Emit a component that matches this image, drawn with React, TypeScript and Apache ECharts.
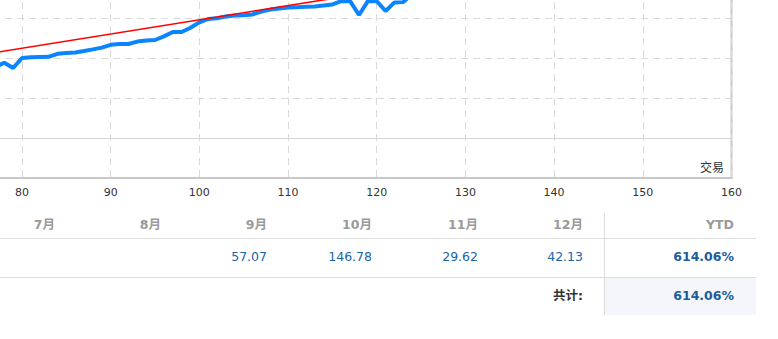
import React, { useEffect, useRef } from "react";
import * as echarts from "echarts";

// ---- data ----
const trades = [76, 77, 78, 79, 80, 81, 82, 83, 84, 85, 86, 87, 88, 89, 90, 91, 92, 93, 94, 95, 96, 97, 98, 99, 100, 101, 102, 103, 104, 105, 106, 107, 108, 109, 110, 111, 112, 113, 114, 115, 116, 117, 118, 119, 120, 121, 122, 123, 124, 125];
const growth = [175, 178, 188, 175, 200, 202, 202.5, 203, 210.5, 212.5, 214, 217.5, 221.5, 226, 233, 235, 235, 241, 243.5, 245, 254, 265, 265, 275.5, 289, 297.5, 299.5, 304, 306, 307, 309, 316, 321, 324, 326, 327, 328, 329, 331, 334, 342, 342, 307.5, 342, 342, 317.5, 339, 340, 360, 380];
const trendTrades = [70, 130];
const trendValues = [189, 402];
const xTicks = [70, 80, 90, 100, 110, 120, 130, 140, 150, 160];

const monthLabels = ["7月", "8月", "9月", "10月", "11月", "12月"];
const monthValues = ["", "", "57.07", "146.78", "29.62", "42.13"];
const ytdLabel = "YTD";
const ytdValue = "614.06%";
const totalLabel = "共计:";
const totalValue = "614.06%";

const FONT = "Tahoma, 'DejaVu Sans', 'Noto Sans CJK SC', sans-serif";

export default function App() {
  const ref = useRef<HTMLDivElement>(null);

  useEffect(() => {
    if (!ref.current) return;
    const chart = echarts.init(ref.current, undefined, { renderer: "svg" });
    chart.setOption({
      animation: false,
      grid: {
        left: 33.3,
        right: 46.5,
        top: 58,
        bottom: 32,
        show: true,
        borderColor: "#c8c8c8",
        borderWidth: 2,
        backgroundColor: "transparent",
      },
      xAxis: {
        type: "value",
        min: xTicks[0],
        max: xTicks[xTicks.length - 1],
        interval: 10,
        axisLine: { show: true, onZero: false, lineStyle: { color: "#c8c8c8", width: 2 } },
        axisTick: { show: false },
        axisLabel: {
          margin: 9,
          color: "#333",
          fontSize: 11,
          fontFamily: FONT,
          formatter: (v: number) => (v < 80 ? "" : String(v)),
        },
        splitLine: { show: true, lineStyle: { color: "#d9d9d9", width: 1, type: [7, 5] } },
      },
      yAxis: {
        type: "value",
        min: -100,
        max: 700,
        interval: 100,
        axisLine: { show: false },
        axisTick: { show: false },
        axisLabel: { show: false },
        splitLine: { show: true, lineStyle: { color: "#d9d9d9", width: 1, type: [7, 5] } },
      },
      graphic: [
        {
          type: "text",
          x: 824,
          y: 366.5,
          style: {
            text: "交易",
            fill: "#333",
            font: "12px 'Noto Sans CJK SC', sans-serif",
            textAlign: "right",
            textVerticalAlign: "middle",
          },
        },
      ],
      series: [
        {
          type: "line",
          data: trades.map((t, i) => [t, growth[i]]),
          showSymbol: false,
          symbol: "none",
          lineStyle: { color: "#0a84ff", width: 4 },
          itemStyle: { color: "#0a84ff" },
          z: 2,
          markLine: {
            silent: true,
            symbol: "none",
            label: { show: false },
            lineStyle: { color: "#d6d6d6", width: 1, type: "solid" },
            data: [{ yAxis: 0 }],
          },
        },
        {
          type: "line",
          data: trendTrades.map((t, i) => [t, trendValues[i]]),
          showSymbol: false,
          symbol: "none",
          lineStyle: { color: "#ff0000", width: 1.6 },
          itemStyle: { color: "#ff0000" },
          z: 3,
        },
      ],
    });
    return () => chart.dispose();
  }, []);

  const colRight = [55, 161, 267, 372, 478, 583];
  const ytdRight = 734;

  const cell = (text: string, right: number, cy: number, style: React.CSSProperties, key: string) => (
    <div
      key={key}
      style={{
        position: "absolute",
        left: right - 120,
        width: 120,
        top: cy - 10,
        height: 20,
        lineHeight: "20px",
        textAlign: "right",
        fontFamily: FONT,
        fontSize: 12.5,
        whiteSpace: "nowrap",
        ...style,
      }}
    >
      {text}
    </div>
  );

  const headStyle: React.CSSProperties = { color: "#9a9a9a", fontWeight: "bold" };
  const valStyle: React.CSSProperties = { color: "#1a64a8" };
  const boldBlue: React.CSSProperties = { color: "#1b5c99", fontWeight: "bold" };

  return (
    <div
      style={{
        position: "fixed",
        left: 0,
        top: 0,
        width: 778,
        height: 339,
        overflow: "hidden",
        background: "#fff",
      }}
    >
      <div ref={ref} style={{ position: "absolute", left: -100, top: -200, width: 878, height: 410 }} />
      {/* table */}
      <div style={{ position: "absolute", left: 605, top: 278, width: 151, height: 37, background: "#f4f6fb" }} />
      <div style={{ position: "absolute", left: 0, top: 238, width: 756, height: 1, background: "#dcdcdc" }} />
      <div style={{ position: "absolute", left: 0, top: 277, width: 756, height: 1, background: "#dcdcdc" }} />
      <div style={{ position: "absolute", left: 604, top: 213, width: 1, height: 102, background: "#dcdcdc" }} />
      {monthLabels.map((m, i) => cell(m, colRight[i], 225, headStyle, "h" + i))}
      {cell(ytdLabel, ytdRight, 225, headStyle, "hy")}
      {monthValues.map((v, i) => cell(v, colRight[i], 257, valStyle, "v" + i))}
      {cell(ytdValue, ytdRight, 257, boldBlue, "vy")}
      {cell(totalLabel, colRight[5], 296, { color: "#333", fontWeight: "bold" }, "tl")}
      {cell(totalValue, ytdRight, 296, boldBlue, "tv")}
    </div>
  );
}
